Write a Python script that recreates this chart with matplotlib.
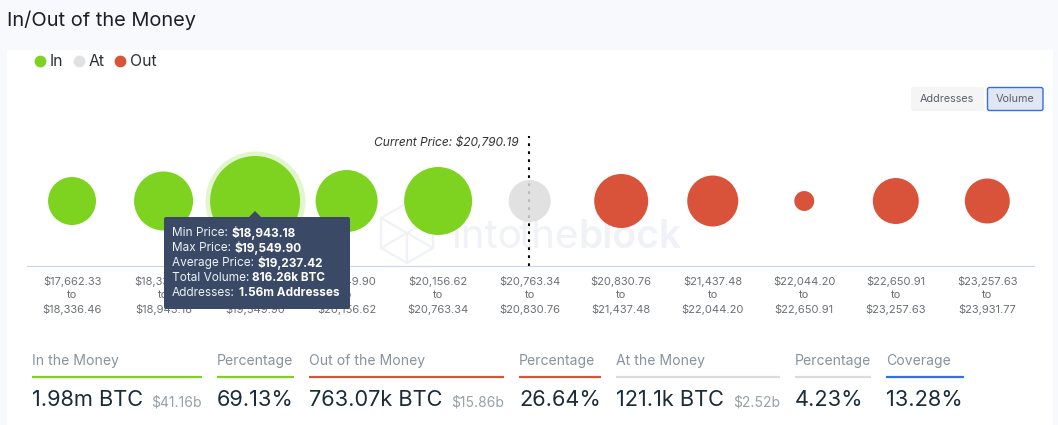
import matplotlib
matplotlib.use("Agg")
import matplotlib.pyplot as plt
from matplotlib.patches import Rectangle, FancyBboxPatch, Polygon

plt.rcParams['font.family'] = ['Inter', 'DejaVu Sans']

W, H = 1058, 425

# bubbles, volume in k BTC (only 816.26 is printed, the rest)
range_low = ["$17,662.33", "$18,336.46", "$18,943.18", "$19,549.90", "$20,156.62", "$20,763.34",
             "$20,830.76", "$21,437.48", "$22,044.20", "$22,650.91", "$23,257.63"]
range_high = ["$18,336.46", "$18,943.18", "$19,549.90", "$20,156.62", "$20,763.34", "$20,830.76",
              "$21,437.48", "$22,044.20", "$22,650.91", "$23,257.63", "$23,931.77"]
volumes = [232, 351, 816.26, 387, 466, 178, 294, 262, 40, 213, 204]
states = ["In", "In", "In", "In", "In", "At", "Out", "Out", "Out", "Out", "Out"]
hovered = 2
current_price_pos = 4.99

state_colors = {"In": "#7ed321", "At": "#e1e1e1", "Out": "#d9523a"}

# summary row under the chart
stat_labels = ["In the Money", "Percentage", "Out of the Money", "Percentage", "At the Money", "Percentage", "Coverage"]
stat_values = ["1.98m BTC", "69.13%", "763.07k BTC", "26.64%", "121.1k BTC", "4.23%", "13.28%"]
stat_usd = ["$41.16b", "", "$15.86b", "", "$2.52b", "", ""]
stat_colors = ["#7ed321", "#7ed321", "#d9523a", "#d9523a", "#dcdcdc", "#dcdcdc", "#2f6fed"]
stat_left = [32, 217, 309, 519, 616, 795, 886]
stat_right = [202, 294, 504, 601, 780, 871, 964]

tooltip_labels = ["Min Price:", "Max Price:", "Average Price:", "Total Volume:", "Addresses:"]
tooltip_values = ["$18,943.18", "$19,549.90", "$19,237.42", "816.26k BTC", "1.56m Addresses"]
tooltip_value_x = [231, 234.5, 257, 252, 239]
tooltip_y = [233, 248, 263, 278, 293]


def px_axes(fig, zorder):
    """Full figure axes in pixel coordinates, y going down."""
    ax = fig.add_axes([0, 0, 1, 1], zorder=zorder)
    ax.set_xlim(0, W)
    ax.set_ylim(H, 0)
    ax.axis("off")
    ax.patch.set_alpha(0)
    return ax


fig = plt.figure(figsize=(W / 100, H / 100), dpi=100, facecolor="#f8f9fd")

# card, title, legend, buttons, watermark
bg = px_axes(fig, 0)
bg.add_patch(Rectangle((7, 50), 1046, 375, fc="white", ec="none"))
bg.text(7, 20, "In/Out of the Money", fontsize=14.4, color="#1b1f27", va="center")

for x, label, tx in [(40, "In", 50), (79, "At", 89), (120, "Out", 130)]:
    bg.scatter([x], [61], s=72, color=state_colors[label], linewidths=0)
    bg.text(tx, 61, label, fontsize=11.4, color="#2b2f36", va="center")

bg.add_patch(FancyBboxPatch((911, 87), 73, 24, boxstyle="round,pad=0,rounding_size=2", fc="#f5f5f6", ec="none"))
bg.text(947, 99, "Addresses", fontsize=7.8, color="#5b6068", ha="center", va="center")
bg.add_patch(FancyBboxPatch((987.5, 87.5), 55.5, 23, boxstyle="round,pad=0,rounding_size=2", fc="#e0e6f2", ec="#2f6fed", lw=1))
bg.text(1015, 99, "Volume", fontsize=7.8, color="#5b6068", ha="center", va="center")

wm = "#f0f2f7"
bg.add_patch(Polygon([(407, 203), (433, 218), (433, 248), (407, 263), (381, 248), (381, 218)], closed=True,
                     fc="none", ec=wm, lw=1.6))
bg.plot([381, 433], [218, 248], color=wm, lw=1.6)
bg.plot([381, 407, 433], [248, 233, 218], color=wm, lw=1.6)
bg.plot([407, 407], [233, 263], color=wm, lw=1.6)
bg.text(452, 248, "into", fontsize=29, color=wm, va="baseline")
bg.text(519, 248, "the", fontsize=29, color=wm, va="baseline")
bg.text(578, 248, "block", fontsize=28, color=wm, va="baseline", fontweight="semibold")

# the bubbles
left, right, top, bottom = 27, 1034, 136, 266
ax = fig.add_axes([left / W, 1 - bottom / H, (right - left) / W, (bottom - top) / H], zorder=1)
ax.patch.set_alpha(0)
positions = list(range(len(volumes)))
sizes = [v * 5.143 for v in volumes]
colors = [state_colors[s] for s in states]
# the grey bubble is a bit see-through, the dotted line shows through it
colors[states.index("At")] = (0.861, 0.861, 0.861, 0.85)
ax.scatter([hovered], [0], s=sizes[hovered] * (100 / 90) ** 2, color=state_colors["In"], alpha=0.22, linewidths=0)
ax.axvline(current_price_pos, color="black", lw=1.5, linestyle=(0, (1.3, 2.54)), zorder=1)
ax.scatter(positions, [0] * len(positions), s=sizes, c=colors, linewidths=0, zorder=2)
ax.set_xlim(-0.492, 10.51)
ax.set_ylim(-1, 1)
ax.set_yticks([])
ax.set_xticks(positions)
ax.set_xticklabels([f"{a}\nto\n{b}" for a, b in zip(range_low, range_high)],
                   fontsize=8.0, color="#6b6f76", linespacing=1.42)
ax.tick_params(axis="x", length=0, pad=7)
for side in ["top", "left", "right"]:
    ax.spines[side].set_visible(False)
ax.spines["bottom"].set_color("#c9d6ea")
ax.text(current_price_pos - 0.11, 0.9, "Current Price: $20,790.19", fontsize=8.6, style="italic",
        color="#333333", ha="right", va="center")

# tooltip and the summary row sit on top
fg = px_axes(fig, 2)
tip = "#3a4a66"
fg.add_patch(FancyBboxPatch((164, 217), 186, 92, boxstyle="round,pad=0,rounding_size=2", fc=tip, ec="none"))
fg.add_patch(Polygon([(248, 218), (255, 211), (262, 218)], closed=True, fc=tip, ec="none"))
for label, value, vx, y in zip(tooltip_labels, tooltip_values, tooltip_value_x, tooltip_y):
    fg.text(172, y, label, fontsize=8.5, color="#eef1f6", va="center")
    fg.text(vx, y, value, fontsize=8.5, color="white", va="center", fontweight="bold")

for i, label in enumerate(stat_labels):
    fg.text(stat_left[i], 361, label, fontsize=10.1, color="#8a929c", va="center")
    fg.plot([stat_left[i], stat_right[i]], [377, 377], color=stat_colors[i], lw=1.6, solid_capstyle="butt")
    fg.text(stat_left[i], 400, stat_values[i], fontsize=15.7, color="#1c2b3a", va="center")
    if stat_usd[i]:
        fg.text(stat_right[i], 402, stat_usd[i], fontsize=10, color="#98a0a9", va="center", ha="right")

fig.savefig("out.png", dpi=100, facecolor=fig.get_facecolor())
